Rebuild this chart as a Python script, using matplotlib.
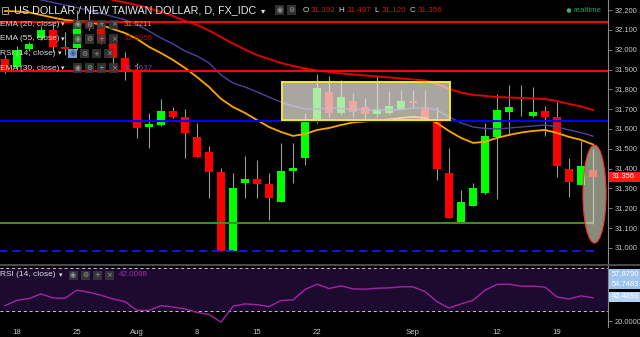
import numpy as np
import matplotlib
matplotlib.use('Agg')
import matplotlib.pyplot as plt
from matplotlib.patches import Rectangle, Ellipse

plt.rcParams['font.family'] = ['Liberation Sans', 'DejaVu Sans']

W, H = 640, 337

# daily bars, index 0 = Jul 18 (index -1 = Jul 15)
bar_idx = list(range(-1, 49))
opens = [31.953, 31.913, 32.004, 32.059, 32.099, 32.012, 32.009, 32.150, 32.125, 32.034,
         31.958, 31.893, 31.610, 31.620, 31.691, 31.661, 31.560, 31.484, 31.383, 30.985,
         31.328, 31.348, 31.323, 31.232, 31.388, 31.454, 31.651, 31.787, 31.681, 31.741,
         31.711, 31.676, 31.681, 31.696, 31.741, 31.711, 31.640, 31.378, 31.131, 31.212,
         31.277, 31.560, 31.686, 31.692, 31.666, 31.691, 31.661, 31.398, 31.318, 31.392]
highs = [31.973, 32.020, 32.040, 32.120, 32.130, 32.089, 32.200, 32.190, 32.140, 32.039,
         31.988, 31.933, 31.681, 31.751, 31.711, 31.701, 31.630, 31.514, 31.403, 31.378,
         31.464, 31.444, 31.378, 31.530, 31.530, 31.681, 31.877, 31.867, 31.847, 31.782,
         31.756, 31.867, 31.792, 31.797, 31.797, 31.797, 31.711, 31.504, 31.292, 31.328,
         31.630, 31.777, 31.822, 31.822, 31.812, 31.716, 31.736, 31.454, 31.540, 31.497]
lows = [31.882, 31.900, 31.995, 32.050, 31.990, 31.973, 32.000, 32.099, 32.030, 31.923,
        31.847, 31.555, 31.504, 31.615, 31.656, 31.454, 31.459, 31.252, 30.985, 30.985,
        31.252, 31.252, 31.141, 31.232, 31.328, 31.419, 31.630, 31.661, 31.671, 31.661,
        31.640, 31.661, 31.676, 31.696, 31.706, 31.645, 31.343, 31.151, 31.131, 31.212,
        31.272, 31.247, 31.570, 31.666, 31.661, 31.565, 31.358, 31.257, 31.318, 31.120]
closes = [31.893, 31.998, 32.029, 32.099, 32.014, 32.002, 32.150, 32.114, 32.039, 31.958,
          31.893, 31.605, 31.625, 31.691, 31.661, 31.580, 31.459, 31.383, 30.985, 31.303,
          31.348, 31.323, 31.252, 31.388, 31.403, 31.640, 31.807, 31.681, 31.761, 31.686,
          31.676, 31.701, 31.716, 31.741, 31.731, 31.656, 31.398, 31.151, 31.232, 31.303,
          31.565, 31.696, 31.711, 31.690, 31.686, 31.661, 31.414, 31.333, 31.414, 31.356]

# EMA(20) for bars -1..48
ema20 = [32.195, 32.193, 32.188, 32.175, 32.162, 32.150, 32.145, 32.140, 32.125, 32.104,
         32.084, 32.054, 32.014, 31.983, 31.948, 31.908, 31.862, 31.812, 31.752, 31.711,
         31.681, 31.645, 31.610, 31.585, 31.565, 31.575, 31.595, 31.605, 31.620, 31.633,
         31.638, 31.643, 31.648, 31.656, 31.661, 31.656, 31.630, 31.590, 31.555, 31.530,
         31.535, 31.555, 31.570, 31.582, 31.590, 31.595, 31.580, 31.560, 31.545, 31.522]
# EMA(30) for bars 2..48
ema30 = [32.251, 32.238, 32.225, 32.213, 32.198, 32.183, 32.167, 32.151, 32.127, 32.094,
         32.059, 32.029, 31.993, 31.968, 31.933, 31.872, 31.832, 31.812, 31.787, 31.761,
         31.736, 31.716, 31.701, 31.701, 31.706, 31.703, 31.701, 31.696, 31.696, 31.696,
         31.698, 31.706, 31.706, 31.696, 31.661, 31.630, 31.610, 31.603, 31.600, 31.605,
         31.610, 31.615, 31.620, 31.610, 31.595, 31.582, 31.564]
# EMA(55) for bars 7..48
ema55 = [32.266, 32.251, 32.238, 32.225, 32.210, 32.190, 32.170, 32.145, 32.125, 32.097,
         32.064, 32.031, 32.001, 31.973, 31.953, 31.933, 31.918, 31.905, 31.895, 31.888,
         31.880, 31.875, 31.870, 31.865, 31.860, 31.855, 31.850, 31.845, 31.827, 31.802,
         31.784, 31.772, 31.767, 31.761, 31.759, 31.756, 31.754, 31.751, 31.741, 31.726,
         31.714, 31.696]
# RSI(14) for bars -1..48
rsi = [34.7, 39.7, 41.3, 45.6, 41.9, 41.6, 49.1, 47.2, 44.4, 40.9,
       38.4, 30.3, 30.3, 34.7, 33.4, 31.6, 28.4, 26.6, 19.4, 34.1,
       36.3, 35.6, 33.8, 39.4, 40.0, 49.7, 54.7, 50.6, 53.1, 50.3,
       50.0, 50.9, 51.2, 52.2, 52.2, 47.8, 38.4, 32.5, 36.3, 39.7,
       49.1, 54.4, 54.7, 52.8, 52.8, 51.9, 42.8, 40.9, 43.8, 42.0]

date_ticks = [0, 5, 10, 15, 20, 25, 33, 40, 45]
date_labels = ['18', '25', 'Aug', '8', '15', '22', 'Sep', '12', '19']
price_ticks = [31.0, 31.1, 31.2, 31.3, 31.4, 31.5, 31.6, 31.7, 31.8, 31.9, 32.0, 32.1, 32.2]

# drawings
red_levels = [32.140, 31.894]
blue_level = 31.642
green_level = 31.125
dash_level = 30.986
box_x = (22.08, 36.08)
box_y = (31.645, 31.837)

GREEN = '#00ff00'
RED = '#ff0000'
GRID = '#8a8a8a'
TXT = '#c8c8c8'

fig = plt.figure(figsize=(6.4, 3.37), dpi=100, facecolor='black')
ax = fig.add_axes([0, 1 - 264 / H, 608 / W, 264 / H])
ax2 = fig.add_axes([0, 1 - 327 / H, 608 / W, 62 / H], sharex=ax)

for a in (ax, ax2):
    a.set_facecolor('black')
    for s in ('top', 'left', 'bottom'):
        a.spines[s].set_visible(False)
    a.spines['right'].set_color(GRID)
    a.spines['right'].set_linewidth(0.8)

x = np.array(bar_idx)
o = np.array(opens)
c = np.array(closes)
up = c >= o
cols = np.where(up, GREEN, RED)
cols[43] = '#b00000'  # doji
body_lo = np.minimum(o, c)
body_h = np.maximum(np.abs(c - o), 0.003)

ax.vlines(x, lows, highs, color='#9a9a9a', lw=0.8, zorder=2)
ax.bar(x, body_h, bottom=body_lo, width=0.67, color=cols, zorder=3)

ax.plot(x, ema20, color='#ffa500', lw=1.3, zorder=4)
ax.plot(bar_idx[3:], ema30, color='#4a44a0', lw=1.0, zorder=4)
ax.plot(bar_idx[8:], ema55, color='#e00000', lw=1.4, zorder=4)

for lv in red_levels:
    ax.axhline(lv, color='#ff0000', lw=1.5, zorder=5)
ax.axhline(blue_level, color='#0000ff', lw=1.5, zorder=5)
ax.hlines(green_level, -1.5, 48.1, color='#4a8a26', lw=1.4, zorder=5)
ax.hlines(dash_level, -1.5, 48.1, color='#1a1aff', lw=1.2, linestyles=(0, (5, 3)), zorder=5)

ax.add_patch(Rectangle((box_x[0], box_y[0]), box_x[1] - box_x[0], box_y[1] - box_y[0],
                       facecolor='#ece7e2', alpha=0.72, edgecolor='none', zorder=6))
ax.add_patch(Rectangle((box_x[0], box_y[0]), box_x[1] - box_x[0], box_y[1] - box_y[0],
                       facecolor='none', edgecolor='#f2e82a', lw=1.4, zorder=6))
ax.add_patch(Ellipse((48.125, 31.272), 1.92, 0.494, facecolor='#e4e8cc', alpha=0.6,
                     edgecolor='none', zorder=7))
ax.add_patch(Ellipse((48.125, 31.272), 1.92, 0.494, facecolor='none',
                     edgecolor='#ff3030', lw=0.8, zorder=7))

ax.set_xlim(-1.4167, 49.25)
ax.set_ylim(30.919, 32.2506)
ax.yaxis.tick_right()
ax.set_yticks(price_ticks)
ax.set_yticklabels(['%.3f' % v for v in price_ticks])
ax.tick_params(axis='y', colors=GRID, labelcolor=TXT, labelsize=5.4, length=3, width=0.6, pad=1.5)
ax.tick_params(axis='x', bottom=False, labelbottom=False)

# RSI panel
ax2.axhspan(30, 70, color='#1d0b2f', zorder=0)
ax2.axhline(70, color='#c8c8c8', lw=0.7, ls=(0, (3, 3)), zorder=1)
ax2.axhline(30, color='#c8c8c8', lw=0.7, ls=(0, (3, 3)), zorder=1)
ax2.plot(x, rsi, color='#a423a8', lw=1.0, zorder=3)
ax2.set_ylim(14.84, 72.5)
ax2.yaxis.tick_right()
ax2.set_yticks([20])
ax2.set_yticklabels(['20.0000'])
ax2.tick_params(axis='y', colors=GRID, labelcolor=TXT, labelsize=5.4, length=3, width=0.6, pad=1.5)
ax2.set_xticks(date_ticks)
ax2.set_xticklabels(date_labels)
ax2.tick_params(axis='x', length=0, labelcolor=TXT, labelsize=5.6, pad=1.5)

# separator
fig.add_artist(plt.Line2D([0, 1], [1 - 264.5 / H, 1 - 264.5 / H], color='#5a5a5a', lw=1.2))


def ftext(px, py, s, **kw):
    kw.setdefault('va', 'center')
    return fig.text(px / W, 1 - py / H, s, **kw)


def icon(px, py, sym, bg='#3a3a3a', fg='#9a9a9a'):
    fig.add_artist(Rectangle((px / W, 1 - (py + 4.5) / H), 9 / W, 9 / H,
                             transform=fig.transFigure, facecolor=bg, alpha=0.85,
                             edgecolor='none'))
    ftext(px + 4.5, py, sym, ha='center', color=fg, fontsize=5, family='DejaVu Sans')


def label_box(py, s, bg, fg='white'):
    fig.add_artist(Rectangle((608.5 / W, 1 - (py + 5) / H), 31.5 / W, 10 / H,
                             transform=fig.transFigure, facecolor=bg, edgecolor='none'))
    ftext(612, py, s, color=fg, fontsize=5.4)


# title row
fig.add_artist(Rectangle((1.5 / W, 1 - 14 / H), 6 / W, 7 / H, transform=fig.transFigure,
                         facecolor='none', edgecolor='#9a9a9a', lw=0.7))
ftext(14, 10.5, 'US DOLLAR / NEW TAIWAN DOLLAR, D, FX_IDC', color='#e6e6e6', fontsize=7.75)
ftext(261, 10.5, '\u25be', color='#e6e6e6', fontsize=6, family='DejaVu Sans')
icon(275, 10, '\u25c9')
icon(287, 10, '\u2699')
ohlc = [(303, 'O', 311, '31.392'), (338, 'H', 347, '31.497'),
        (374, 'L', 382, '31.120'), (410, 'C', 418, '31.356')]
for lx, let, vx, val in ohlc:
    ftext(lx, 10.5, let, color='#d8d8d8', fontsize=5.8)
    ftext(vx, 10.5, val, color='#d01818', fontsize=5.8)

ftext(573, 10.5, 'realtime', color='#2f9e6a', fontsize=5.6)
fig.add_artist(Ellipse((569 / W, 1 - 10.5 / H), 4.5 / W, 4.5 / H, transform=fig.transFigure,
                       facecolor='#3bb27a', edgecolor='none'))

# indicator legend rows
rows = [(24.5, 'EMA (20, close)', 61, 73, '31.5211', '#e8a000'),
        (39.0, 'EMA (55, close)', 61, 73, '31.6956', '#c00000'),
        (53.5, 'RSI (14, close)', 58, 68, None, None),
        (68.0, 'EMA (30, close)', 61, 73, '31.5637', '#5a52b8')]
for ry, name, ax_, ix, val, vc in rows:
    ftext(-0.5, ry, name, color='#dcdcdc', fontsize=6)
    ftext(ax_, ry, '\u25be', color='#dcdcdc', fontsize=5, family='DejaVu Sans')
    if val is None:
        icon(ix, ry, '\u25c9', bg='#8ab8e6', fg='#2a5a9a')
    else:
        icon(ix, ry, '\u25c9')
    icon(ix + 12, ry, '\u2699')
    icon(ix + 24, ry, '+')
    icon(ix + 36, ry, '\u00d7')
    if val is not None:
        ftext(124, ry, val, color=vc, fontsize=5.8)

# RSI legend
ftext(-0.5, 275, 'RSI (14, close)', color='#dcdcdc', fontsize=6)
ftext(58.5, 275, '\u25be', color='#dcdcdc', fontsize=5, family='DejaVu Sans')
icon(68.5, 275, '\u25c9')
icon(80.5, 275, '\u2699')
icon(92.5, 275, '+')
icon(104.5, 275, '\u00d7')
ftext(119, 275, '42.0088', color='#a02aa8', fontsize=5.8)

# price scale labels
label_box(177, '31.356', '#ff1a1a')
label_box(274, '57.9790', '#9cc4ec')
label_box(284, '54.7483', '#9cc4ec')
label_box(297, '42.4693', '#b4d4f4')

fig.savefig('out.png', dpi=100, facecolor='black')
